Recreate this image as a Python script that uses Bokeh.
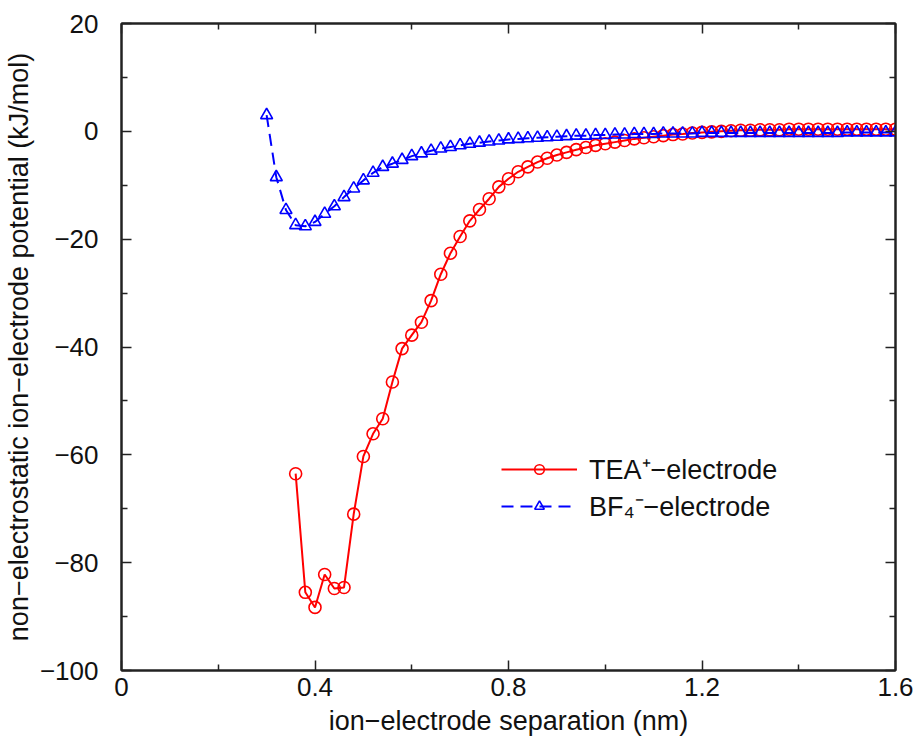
from bokeh.plotting import figure
from bokeh.models import (FixedTicker, LinearAxis, Legend, LegendItem, Range1d,
                          CustomLabelingPolicy)
from bokeh.embed import file_html
from bokeh.resources import INLINE

# ---------------- data ----------------
tea_x = [0.36, 0.38, 0.40, 0.42, 0.44, 0.46, 0.48, 0.50, 0.52, 0.54,
         0.56, 0.58, 0.60, 0.62, 0.64, 0.66, 0.68, 0.70, 0.72, 0.74,
         0.76, 0.78, 0.80, 0.82, 0.84, 0.86, 0.88, 0.90, 0.92, 0.94,
         0.96, 0.98, 1.00, 1.02, 1.04, 1.06, 1.08, 1.10, 1.12, 1.14,
         1.16, 1.18, 1.20, 1.22, 1.24, 1.26, 1.28, 1.30, 1.32, 1.34,
         1.36, 1.38, 1.40, 1.42, 1.44, 1.46, 1.48, 1.50, 1.52, 1.54,
         1.56, 1.58, 1.60]
tea_y = [-63.5, -85.5, -88.3, -82.2, -84.8, -84.6, -71.0, -60.3, -56.1, -53.3,
         -46.5, -40.3, -37.8, -35.4, -31.4, -26.5, -22.6, -19.5, -16.6, -14.5,
         -12.5, -10.3, -8.8, -7.5, -6.6, -5.7, -5.0, -4.4, -3.9, -3.4,
         -3.0, -2.6, -2.3, -2.0, -1.7, -1.4, -1.2, -1.0, -0.8, -0.6,
         -0.5, -0.3, -0.2, -0.1, 0.0, 0.1, 0.2, 0.2, 0.3, 0.3,
         0.3, 0.4, 0.4, 0.4, 0.4, 0.4, 0.4, 0.4, 0.4, 0.4,
         0.4, 0.4, 0.4]

bf4_x = [0.30, 0.32, 0.34, 0.36, 0.38, 0.40, 0.42, 0.44, 0.46, 0.48,
         0.50, 0.52, 0.54, 0.56, 0.58, 0.60, 0.62, 0.64, 0.66, 0.68,
         0.70, 0.72, 0.74, 0.76, 0.78, 0.80, 0.82, 0.84, 0.86, 0.88,
         0.90, 0.92, 0.94, 0.96, 0.98, 1.00, 1.02, 1.04, 1.06, 1.08,
         1.10, 1.12, 1.14, 1.16, 1.18, 1.20, 1.22, 1.24, 1.26, 1.28,
         1.30, 1.32, 1.34, 1.36, 1.38, 1.40, 1.42, 1.44, 1.46, 1.48,
         1.50, 1.52, 1.54, 1.56, 1.58, 1.60]
bf4_y = [3.0, -8.5, -14.6, -17.4, -17.6, -16.8, -15.3, -13.9, -12.2, -10.6,
         -9.1, -7.7, -6.6, -6.0, -5.3, -4.6, -4.1, -3.6, -3.2, -2.9,
         -2.6, -2.3, -2.1, -1.9, -1.7, -1.5, -1.4, -1.3, -1.2, -1.1,
         -1.0, -0.9, -0.8, -0.8, -0.7, -0.7, -0.6, -0.6, -0.5, -0.5,
         -0.5, -0.4, -0.4, -0.4, -0.4, -0.3, -0.3, -0.3, -0.3, -0.3,
         -0.3, -0.3, -0.3, -0.3, -0.3, -0.3, -0.3, -0.3, -0.3, -0.3,
         -0.2, -0.2, -0.2, -0.2, -0.2, -0.2]

x_ticks = [0, 0.4, 0.8, 1.2, 1.6]
x_tick_labels = ["0", "0.4", "0.8", "1.2", "1.6"]
x_minor = [0.2, 0.6, 1.0, 1.4]
y_ticks = [-100, -80, -60, -40, -20, 0, 20]
y_tick_labels = ["\u2212100", "\u221280", "\u221260", "\u221240", "\u221220", "0", "20"]
y_minor = [-90, -70, -50, -30, -10, 10]

series_labels = ["TEA\u207A\u2212electrode", "BF\u2084\u207B\u2212electrode"]
x_label = "ion\u2212electrode separation (nm)"
y_label = "non\u2212electrostatic ion\u2212electrode potential (kJ/mol)"

FONT = "Liberation Sans"

p = figure(width=918, height=744, output_backend="svg", toolbar_location=None,
           x_range=Range1d(0, 1.6), y_range=Range1d(-100, 20),
           min_border_left=119, min_border_right=23, min_border_top=23,
           min_border_bottom=74)
p.grid.visible = False
p.outline_line_color = "#222222"
p.outline_line_width = 2
p.background_fill_color = "white"
p.border_fill_color = "white"

x_overrides = {t: l for t, l in zip(x_ticks, x_tick_labels)}
y_overrides = {t: l for t, l in zip(y_ticks, y_tick_labels)}

no_labels = CustomLabelingPolicy(code="""
    for (const i of indices) { indices.unset(i) }
    return indices
""")


def style_axis(ax, ticker, overrides, show_labels):
    ax.ticker = ticker
    ax.axis_line_color = "#222222"
    ax.axis_line_width = 2
    ax.major_tick_in = 10
    ax.major_tick_out = 0
    ax.minor_tick_in = 6
    ax.minor_tick_out = 0
    ax.major_tick_line_color = "#222222"
    ax.minor_tick_line_color = "#222222"
    ax.major_tick_line_width = 1.5
    ax.minor_tick_line_width = 1.5
    ax.major_label_overrides = overrides
    ax.major_label_text_font = FONT
    ax.major_label_text_color = "#111111"
    if show_labels:
        ax.major_label_text_font_size = "26px"
    else:
        ax.major_label_text_font_size = "1px"
        ax.major_label_policy = no_labels
        ax.major_label_standoff = 0


xt = FixedTicker(ticks=x_ticks, minor_ticks=x_minor)
yt = FixedTicker(ticks=y_ticks, minor_ticks=y_minor)

style_axis(p.xaxis[0], xt, x_overrides, True)
style_axis(p.yaxis[0], yt, y_overrides, True)
p.xaxis[0].major_label_standoff = 7
p.yaxis[0].major_label_standoff = 23
p.xaxis[0].axis_label = x_label
p.yaxis[0].axis_label = y_label
for ax in (p.xaxis[0], p.yaxis[0]):
    ax.axis_label_text_font = FONT
    ax.axis_label_text_font_size = "27px"
    ax.axis_label_text_font_style = "normal"
    ax.axis_label_text_color = "#111111"
p.xaxis[0].axis_label_standoff = 7
p.yaxis[0].axis_label_standoff = 3

top_ax = LinearAxis()
style_axis(top_ax, FixedTicker(ticks=x_ticks, minor_ticks=x_minor), x_overrides, False)
p.add_layout(top_ax, "above")
right_ax = LinearAxis()
style_axis(right_ax, FixedTicker(ticks=y_ticks, minor_ticks=y_minor), y_overrides, False)
p.add_layout(right_ax, "right")

# TEA+ series
tea_line = p.line(tea_x, tea_y, line_color="#ff0000", line_width=2)
tea_pts = p.scatter(tea_x, tea_y, marker="circle", size=12, fill_color=None,
                    line_color="#ff0000", line_width=1.6)
# BF4- series
bf4_line = p.line(bf4_x, bf4_y, line_color="#0000ff", line_width=2, line_dash="12 7")
bf4_pts = p.scatter(bf4_x, bf4_y, marker="triangle", size=12, fill_color=None,
                    line_color="#0000ff", line_width=1.6)

legend = Legend(items=[
    LegendItem(label=series_labels[0], renderers=[tea_line, tea_pts]),
    LegendItem(label=series_labels[1], renderers=[bf4_line, bf4_pts]),
], location=(380, 146))
legend.background_fill_alpha = 0
legend.border_line_color = None
legend.glyph_width = 76
legend.glyph_height = 24
legend.label_height = 24
legend.label_standoff = 12
legend.spacing = -4
legend.label_text_font = FONT
legend.label_text_font_size = "27px"
legend.label_text_color = "#111111"
legend.padding = 4
p.add_layout(legend, "center")

open("out.html", "w").write(file_html(p, INLINE))
